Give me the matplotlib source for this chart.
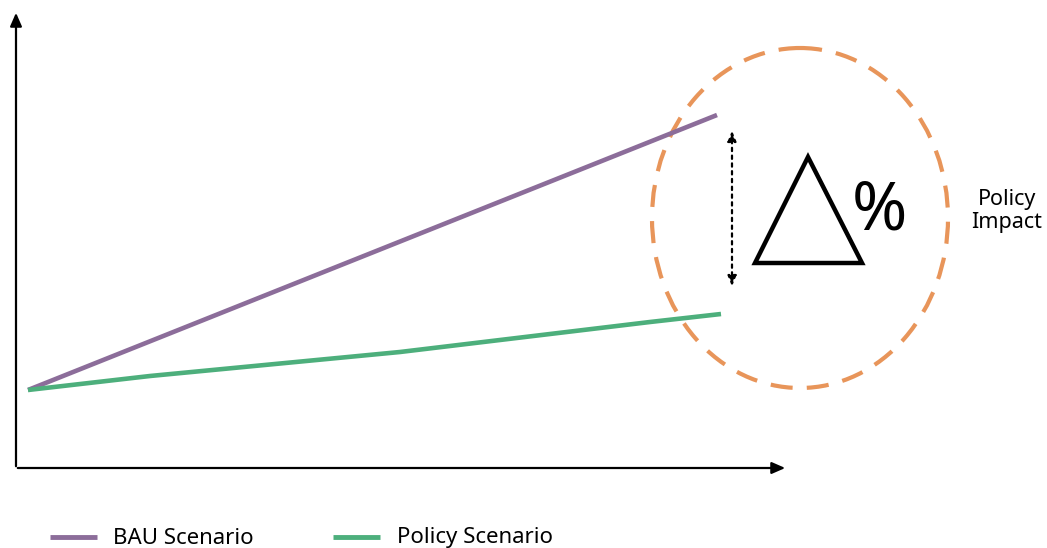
import numpy as np
import matplotlib.pyplot as plt
from matplotlib.patches import Ellipse, Polygon

plt.rcParams['font.family'] = ['Noto Sans', 'DejaVu Sans']

# schematic data, in pixel-like units (y grows downward)
bau_x = [28, 717]
bau_y = [390, 115]
pol_x = [28, 150, 275, 400, 525, 650, 721]
pol_y = [390, 376, 364, 352, 337, 322, 314]
series_names = ['BAU Scenario', 'Policy Scenario']
series_colors = ['#8C6D9A', '#4DAF7C']
circle_color = '#E8955A'

fig = plt.figure(figsize=(10.47, 5.48), dpi=100)
ax = fig.add_axes([0, 0, 1, 1])
ax.set_xlim(0, 1047)
ax.set_ylim(548, 0)
ax.axis('off')

# axes arrows
ax.annotate('', xy=(16, 10), xytext=(16, 469),
            arrowprops=dict(arrowstyle='-|>,head_length=0.8,head_width=0.35', lw=1.6, color='black'))
ax.annotate('', xy=(788, 468), xytext=(15, 468),
            arrowprops=dict(arrowstyle='-|>,head_length=0.8,head_width=0.35', lw=1.6, color='black'))

# scenario lines
ax.plot(bau_x, bau_y, color=series_colors[0], lw=3.3, solid_capstyle='butt')
ax.plot(pol_x, pol_y, color=series_colors[1], lw=3.3, solid_capstyle='butt')

# dashed circle
ax.add_patch(Ellipse((800, 218), 296, 340, fill=False, ec=circle_color,
                     lw=3, ls=(0, (5.3, 3.4))))

# dotted double arrow
ax.annotate('', xy=(732, 128), xytext=(732, 289),
            arrowprops=dict(arrowstyle='<|-|>,head_length=0.6,head_width=0.25', lw=1.6,
                            ls=(0, (1.5, 2)), color='black'))

# delta triangle and percent
ax.add_patch(Polygon([[755, 263], [862, 263], [808, 157]], closed=True,
                     fill=False, ec='black', lw=3.2, joinstyle='miter'))
ax.text(879, 211, '%', fontsize=48, ha='center', va='center', color='black')

ax.text(1007, 211, 'Policy\nImpact', fontsize=15.5, ha='center', va='center',
        linespacing=1.15, color='black')

# legend
ax.plot([50, 97], [537, 537], color=series_colors[0], lw=3.5, solid_capstyle='butt')
ax.text(113, 538, series_names[0], fontsize=16, va='center')
ax.plot([333, 380], [537, 537], color=series_colors[1], lw=3.5, solid_capstyle='butt')
ax.text(397, 537, series_names[1], fontsize=16, va='center')

fig.savefig('out.png', dpi=100)
